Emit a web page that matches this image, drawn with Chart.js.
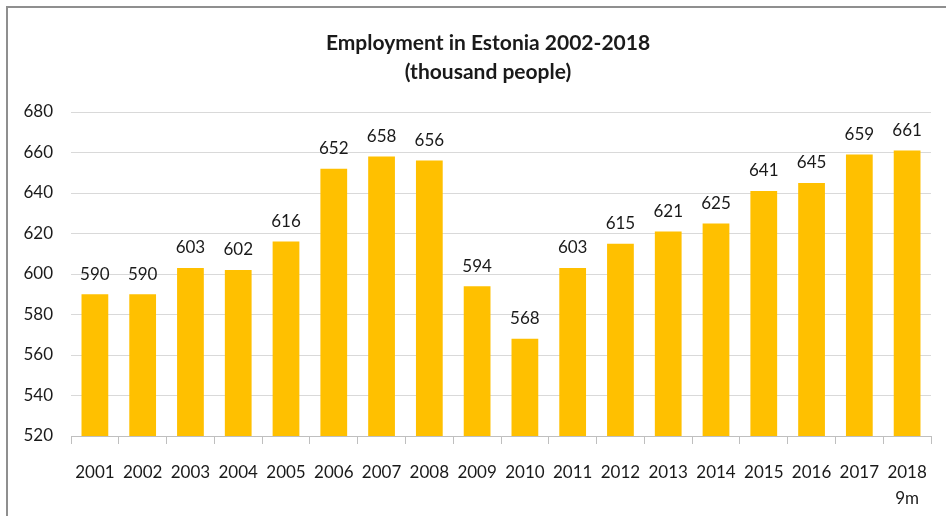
<!DOCTYPE html>
<html>
<head>
<meta charset="utf-8">
<script src="https://cdn.jsdelivr.net/npm/chart.js@4/dist/chart.umd.min.js"></script>
<style>
  html, body { margin: 0; padding: 0; background: #fff; overflow: hidden; }
  #wrap { position: relative; width: 946px; height: 516px; }
  #frame { position: absolute; left: 6px; top: 6px; width: 1000px; height: 600px;
           border: 2px solid #8f8f8f; box-sizing: border-box; }
  canvas { position: absolute; left: 0; top: 0; }
</style>
</head>
<body>
<div id="wrap">
  <div id="frame"></div>
  <canvas id="employmentChart" width="946" height="516"></canvas>
</div>
<script>
// Employment in Estonia, thousand people
const years = ['2001', '2002', '2003', '2004', '2005', '2006', '2007', '2008', '2009',
    '2010', '2011', '2012', '2013', '2014', '2015', '2016', '2017', ['2018', '9m']];
const employed = [590, 590, 603, 602, 616, 652, 658, 656, 594, 568, 603, 615, 621, 625, 641, 645, 659, 661];
const yTicks = [520, 540, 560, 580, 600, 620, 640, 660, 680];

const fontFamily = 'Lato, "Open Sans", sans-serif';
const textColor = '#1a1a1a';

// draws title and value labels
const labelsPlugin = {
    id: 'labels',
    afterDatasetsDraw(chart) {
        const c = chart.ctx;
        c.save();
        c.fillStyle = textColor;
        c.textAlign = 'center';
        c.textBaseline = 'middle';
        c.font = '17px ' + fontFamily;
        const meta = chart.getDatasetMeta(0);
        meta.data.forEach((bar, i) => {
            c.fillText(String(employed[i]), bar.x, bar.y - 20);
        });
        c.font = 'bold 21px ' + fontFamily;
        c.fillText('Employment in Estonia 2002-2018', 488, 43);
        c.fillText('(thousand people)', 488, 72);
        c.restore();
    }
};

const ctx = document.getElementById('employmentChart').getContext('2d');
const employmentChart = new Chart(ctx, {
    type: 'bar',
    data: {
        labels: years,
        datasets: [{
            data: employed,
            backgroundColor: '#FFC000',
            borderWidth: 0,
            categoryPercentage: 1,
            barPercentage: 0.56
        }]
    },
    options: {
        responsive: false,
        animation: false,
        layout: { padding: { top: 112, right: 15, left: 0, bottom: 0 } },
        plugins: {
            legend: { display: false },
            title: { display: false },
            tooltip: { enabled: false }
        },
        scales: {
            x: {
                grid: { drawOnChartArea: false, drawTicks: true, tickLength: 8, color: '#bfbfbf' },
                border: { display: true, color: '#bfbfbf' },
                ticks: { padding: 16, color: textColor, font: { family: fontFamily, size: 17, lineHeight: 1.5 }, maxRotation: 0 },
                afterFit(scale) { scale.height = 80; }
            },
            y: {
                min: 520,
                max: 680,
                afterBuildTicks(scale) { scale.ticks = yTicks.map(v => ({ value: v })); },
                grid: { drawTicks: false, color: '#d9d9d9' },
                border: { display: false },
                ticks: { padding: 18, color: textColor, font: { family: fontFamily, size: 17 } },
                afterFit(scale) { scale.width = 71; }
            }
        }
    },
    plugins: [labelsPlugin]
});
</script>
</body>
</html>
